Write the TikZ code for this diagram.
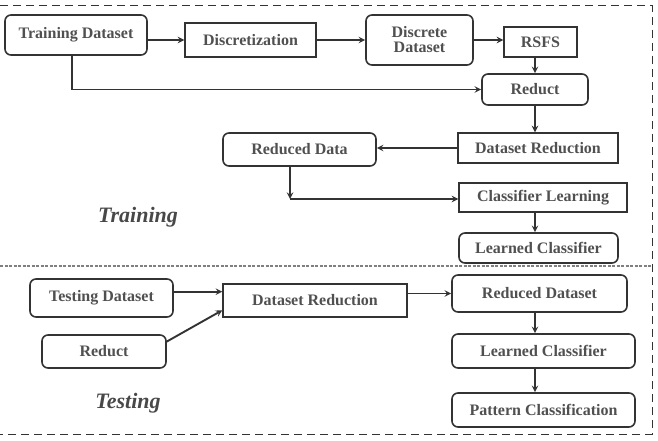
\documentclass[tikz,border=0pt]{standalone}
\usepackage{fontspec}
\setmainfont{Liberation Serif}
\usepackage{xcolor}
\usepackage{tikz}

\definecolor{linegray}{HTML}{333333}
\definecolor{textgray}{HTML}{505050}

\begin{document}
\begin{tikzpicture}[x=1pt, y=-1pt,
    sbox/.style={rectangle, draw=linegray, line width=1.4pt, text=textgray, font=\bfseries\fontsize{16}{17}\selectfont, inner sep=2pt},
    rbox/.style={sbox, rounded corners=6pt, line width=1.6pt},
    phase/.style={text=textgray!90!black, font=\bfseries\itshape\fontsize{22}{24}\selectfont},
    conn/.style={->, >=stealth, line width=1.9pt, draw=linegray}]
    \useasboundingbox (0,0) rectangle (658,441);

    % frame
    \draw[linegray, line width=1pt, dash pattern=on 8pt off 5pt] (0,6) -- (652,6) -- (652,434) -- (0,434);
    \draw[gray, line width=1.2pt, dash pattern=on 3pt off 1.5pt] (0,266) -- (652,266);

    % training part
    \node[rbox, minimum width=142pt, minimum height=40pt] (trdata) at (76,35) {Training Dataset};
    \node[sbox, minimum width=131pt, minimum height=34pt] (discr) at (250.5,40) {Discretization};
    \node[rbox, minimum width=107pt, minimum height=50pt, align=center] (ddata) at (419.5,40) {Discrete\\[-2pt]Dataset};
    \node[sbox, minimum width=73pt, minimum height=30pt] (rsfs) at (540.5,42) {RSFS};
    \node[rbox, minimum width=106pt, minimum height=31pt] (reduct) at (535,89.5) {Reduct};
    \node[sbox, minimum width=160pt, minimum height=30pt] (dsred) at (538,148) {Dataset Reduction};
    \node[rbox, minimum width=153pt, minimum height=33pt] (reddata) at (299.5,149.5) {Reduced Data};
    \node[sbox, minimum width=168pt, minimum height=29pt] (cllearn) at (543,197.5) {Classifier Learning};
    \node[rbox, minimum width=159pt, minimum height=30pt] (lclass) at (538.5,248) {Learned Classifier};
    \node[phase] (trlabel) at (138,217) {Training};
    \coordinate (rdturn) at (290,199);

    \draw[conn] (trdata.east |- discr.west) -- (discr.west);
    \draw[conn] (discr) -- (ddata);
    \draw[conn] (ddata.east) -- (ddata.east -| rsfs.west);
    \draw[conn] (rsfs.south -| reduct) -- (reduct.north);
    \draw[conn] (trdata.south -| 72,0) |- (reduct.west);
    \draw[conn] (reduct.south) -- (reduct.south |- dsred.north);
    \draw[conn] (dsred.west) -- (dsred.west -| reddata.east);
    \draw[conn] (reddata.south -| rdturn) -- (rdturn);
    \draw[conn] (rdturn) -- (rdturn -| cllearn.west);
    \draw[conn] (cllearn.south -| reduct) -- (reduct |- lclass.north);

    % testing part
    \node[rbox, minimum width=143pt, minimum height=38pt] (tsdata) at (101.5,298) {Testing Dataset};
    \node[rbox, minimum width=124pt, minimum height=33pt] (treduct) at (104,351.5) {Reduct};
    \node[sbox, minimum width=184pt, minimum height=33pt] (tdsred) at (315,300.5) {Dataset Reduction};
    \node[rbox, minimum width=175pt, minimum height=37pt] (rdset) at (539.5,293.5) {Reduced Dataset};
    \node[rbox, minimum width=183pt, minimum height=34pt] (tlclass) at (543.5,351) {Learned Classifier};
    \node[rbox, minimum width=183pt, minimum height=34pt] (pclass) at (543.5,410) {Pattern Classification};
    \node[phase] (tslabel) at (128,403) {Testing};

    \draw[conn] (tsdata.5) -- (tsdata.5 -| tdsred.west);
    \draw[conn] (treduct.9) -- (tdsred.186);
    \draw[conn] (tdsred.east |- rdset) -- (rdset.west);
    \draw[conn] (rdset.south -| reduct) -- (reduct |- tlclass.north);
    \draw[conn] (tlclass.south -| reduct) -- (reduct |- pclass.north);
\end{tikzpicture}
\end{document}
